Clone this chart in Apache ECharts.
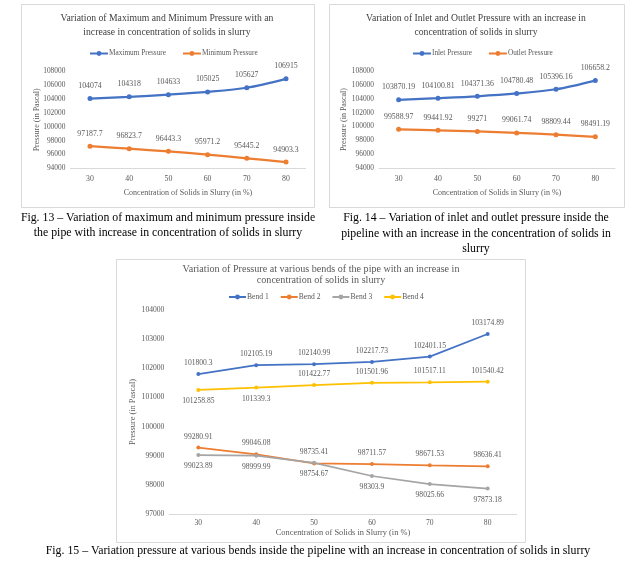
<!DOCTYPE html>
<html>
<head>
<meta charset="utf-8">
<script src="https://cdn.jsdelivr.net/npm/echarts@6/dist/echarts.min.js"></script>
<style>
html,body{margin:0;padding:0;background:#fff;}
#main{width:636px;height:563px;}
</style>
</head>
<body>
<div id="main"></div>
<script>
const categories = ['30', '40', '50', '60', '70', '80'];
const maxPressure = [104074, 104318, 104633, 105025, 105627, 106915];
const minPressure = [97187.7, 96823.7, 96443.3, 95971.2, 95445.2, 94903.3];
const inletPressure = [103870.19, 104100.81, 104371.36, 104780.48, 105396.16, 106658.2];
const outletPressure = [99588.97, 99441.92, 99271, 99061.74, 98809.44, 98491.19];
const bend1 = [101800.3, 102105.19, 102140.99, 102217.73, 102401.15, 103174.89];
const bend2 = [99280.91, 99046.08, 98735.41, 98711.57, 98671.53, 98636.41];
const bend3 = [99023.89, 98999.99, 98754.67, 98303.9, 98025.66, 97873.18];
const bend4 = [101258.85, 101339.3, 101422.77, 101501.96, 101517.11, 101540.42];

const bend3LabelPos = ['bottom', 'bottom', 'bottom', 'bottom', 'bottom', 'bottom'];
const bend4LabelPos = ['bottom', 'bottom', 'top', 'top', 'top', 'top'];

const FONT = 'Liberation Serif';
const GRAY = '#595959';
const BLUE = '#4472C4', ORANGE = '#ED7D31', GREY = '#A5A5A5', YELLOW = '#FFC000';

const chart = echarts.init(document.getElementById('main'), null, {renderer: 'canvas'});

function xAxisCfg(gridIndex, fs, nfs, margin, nameGap) {
  return {
    type: 'category', gridIndex, data: categories, boundaryGap: true,
    axisLine: {lineStyle: {color: '#d9d9d9', width: 1}},
    axisTick: {show: false},
    axisLabel: {color: GRAY, fontFamily: FONT, fontSize: fs, margin},
    name: 'Concentration of Solids in Slurry (in %)',
    nameLocation: 'middle', nameGap, nameMoveOverlap: false,
    nameTextStyle: {color: GRAY, fontFamily: FONT, fontSize: nfs}
  };
}
function yAxisCfg(gridIndex, min, max, interval, fs, nfs, nameGap) {
  return {
    type: 'value', gridIndex, min, max, interval,
    axisLine: {show: false}, axisTick: {show: false},
    splitLine: {show: false},
    axisLabel: {color: GRAY, fontFamily: FONT, fontSize: fs, margin: 5,
                formatter: v => String(v)},
    name: 'Pressure (in Pascal)', nameLocation: 'middle', nameGap, nameMoveOverlap: false,
    nameTextStyle: {color: GRAY, fontFamily: FONT, fontSize: nfs}
  };
}
function lineSeries(name, values, color, idx, opts) {
  const o = opts || {};
  return {
    name, type: 'line', xAxisIndex: idx, yAxisIndex: idx,
    data: values.map((v, i) => o.pos ? {value: v, label: {position: o.pos[i]}} : v),
    smooth: o.smooth || false,
    symbol: 'circle', symbolSize: o.symbolSize || 5,
    lineStyle: {color, width: o.width || 2.25},
    itemStyle: {color},
    label: {show: true, position: 'top', distance: o.dist || 6, color: GRAY,
            fontFamily: FONT, fontSize: o.fs || 7.8},
    emphasis: {disabled: true},
    animation: false
  };
}
function legendCfg(names, left, top, fs, iw, gap) {
  return {
    data: names, left, top, orient: 'horizontal', padding: 0,
    itemWidth: iw, itemHeight: 6, itemGap: gap,
    textStyle: {color: GRAY, fontFamily: FONT, fontSize: fs, padding: [0, 0, 0, -4]}
  };
}
function txt(text, x, y, size, color, lh) {
  return {type: 'text', silent: true, style: {
    text, x, y, align: 'center', verticalAlign: 'middle',
    font: size + 'px "' + FONT + '"', fill: color, lineHeight: lh || size * 1.3
  }};
}
function box(x, y, w, h) {
  return {type: 'rect', silent: true, shape: {x, y, width: w, height: h},
          style: {fill: 'none', stroke: '#d9d9d9', lineWidth: 1}};
}

const option = {
  backgroundColor: '#fff',
  animation: false,
  grid: [
    {left: 70.4, top: 71.3, width: 235.2, height: 97},
    {left: 379, top: 71.3, width: 236, height: 96.5},
    {left: 169.4, top: 310, width: 347.2, height: 204}
  ],
  xAxis: [xAxisCfg(0, 7.8, 8, 7, 21), xAxisCfg(1, 7.8, 8, 7, 21), xAxisCfg(2, 7.6, 8.4, 5, 14.5)],
  yAxis: [yAxisCfg(0, 94000, 108000, 2000, 7.4, 8, 29), yAxisCfg(1, 94000, 108000, 2000, 7.4, 8, 31),
          yAxisCfg(2, 97000, 104000, 1000, 7.6, 8.4, 32.5)],
  legend: [
    legendCfg(['Maximum Pressure', 'Minimum Pressure'], 89, 50, 7.3, 18, 16),
    legendCfg(['Inlet Pressure', 'Outlet Pressure'], 412, 50, 7.3, 18, 16),
    legendCfg(['Bend 1', 'Bend 2', 'Bend 3', 'Bend 4'], 228, 293, 7.6, 17, 11)
  ],
  series: [
    lineSeries('Maximum Pressure', maxPressure, BLUE, 0, {smooth: 0.3}),
    lineSeries('Minimum Pressure', minPressure, ORANGE, 0, {smooth: 0.3}),
    lineSeries('Inlet Pressure', inletPressure, BLUE, 1, {smooth: 0.3}),
    lineSeries('Outlet Pressure', outletPressure, ORANGE, 1, {smooth: 0.3}),
    lineSeries('Bend 1', bend1, BLUE, 2, {width: 1.75, symbolSize: 4, fs: 7.6, dist: 5}),
    lineSeries('Bend 2', bend2, ORANGE, 2, {width: 1.75, symbolSize: 4, fs: 7.6, dist: 5}),
    lineSeries('Bend 3', bend3, GREY, 2, {width: 1.75, symbolSize: 4, fs: 7.6, dist: 5, pos: bend3LabelPos}),
    lineSeries('Bend 4', bend4, YELLOW, 2, {width: 1.75, symbolSize: 4, fs: 7.6, dist: 5, pos: bend4LabelPos})
  ],
  graphic: [
    box(21.5, 4.5, 293, 203),
    box(329.5, 4.5, 295, 203),
    box(116.5, 259.5, 409, 283),
    txt('Variation of Maximum and Minimum Pressure with an\nincrease in concentration of solids in slurry', 167, 25, 9.7, '#404040', 14),
    txt('Variation of Inlet and Outlet Pressure with an increase in\nconcentration of solids in slurry', 476, 25.5, 9.7, '#404040', 13.5),
    txt('Variation of Pressure at various bends of the pipe with an increase in\nconcentration of solids in slurry', 321, 274.5, 10.1, '#595959', 10.8),
    txt('Fig. 13 \u2013 Variation of maximum and minimum pressure inside\nthe pipe with increase in concentration of solids in slurry', 168, 225.5, 11.8, '#000', 15),
    txt('Fig. 14 \u2013 Variation of inlet and outlet pressure inside the\npipeline with an increase in the concentration of solids in\nslurry', 476, 233.5, 11.8, '#000', 15.5),
    txt('Fig. 15 \u2013 Variation pressure at various bends inside the pipeline with an increase in concentration of solids in slurry', 318, 551, 11.8, '#000', 14)
  ]
};
chart.setOption(option);
</script>
</body>
</html>
